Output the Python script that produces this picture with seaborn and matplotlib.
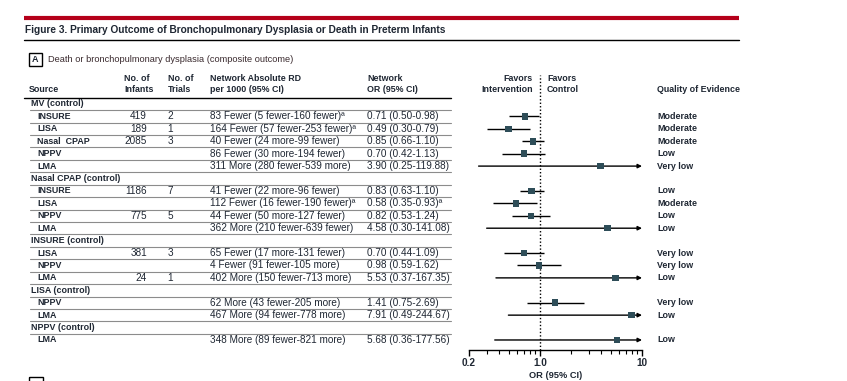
import matplotlib
matplotlib.use('Agg')
import matplotlib.pyplot as plt
import seaborn as sns
import numpy as np
from matplotlib.patches import Rectangle
from matplotlib.ticker import FixedLocator, NullFormatter

# Data
groups = ['MV (control)', 'Nasal CPAP (control)', 'INSURE (control)', 'LISA (control)', 'NPPV (control)']
group_of = [0, 0, 0, 0, 0, 1, 1, 1, 1, 2, 2, 2, 3, 3, 4]
labels = ['INSURE', 'LISA', 'Nasal  CPAP', 'NPPV', 'LMA',
          'INSURE', 'LISA', 'NPPV', 'LMA',
          'LISA', 'NPPV', 'LMA',
          'NPPV', 'LMA',
          'LMA']
infants = ['419', '189', '2085', '', '', '1186', '', '775', '', '381', '', '24', '', '', '']
trials = ['2', '1', '3', '', '', '7', '', '5', '', '3', '', '1', '', '', '']
rd_text = ['83 Fewer (5 fewer-160 fewer)\u00aa',
           '164 Fewer (57 fewer-253 fewer)\u00aa',
           '40 Fewer (24 more-99 fewer)',
           '86 Fewer (30 more-194 fewer)',
           '311 More (280 fewer-539 more)',
           '41 Fewer (22 more-96 fewer)',
           '112 Fewer (16 fewer-190 fewer)\u00aa',
           '44 Fewer (50 more-127 fewer)',
           '362 More (210 fewer-639 fewer)',
           '65 Fewer (17 more-131 fewer)',
           '4 Fewer (91 fewer-105 more)',
           '402 More (150 fewer-713 more)',
           '62 More (43 fewer-205 more)',
           '467 More (94 fewer-778 more)',
           '348 More (89 fewer-821 more)']
or_est = [0.71, 0.49, 0.85, 0.70, 3.90, 0.83, 0.58, 0.82, 4.58, 0.70, 0.98, 5.53, 1.41, 7.91, 5.68]
or_lo = [0.50, 0.30, 0.66, 0.42, 0.25, 0.63, 0.35, 0.53, 0.30, 0.44, 0.59, 0.37, 0.75, 0.49, 0.36]
or_hi = [0.98, 0.79, 1.10, 1.13, 119.88, 1.10, 0.93, 1.24, 141.08, 1.09, 1.62, 167.35, 2.69, 244.67, 177.56]
or_note = ['', '', '', '', '', '', '\u00aa', '', '', '', '', '', '', '', '']
quality = ['Moderate', 'Moderate', 'Moderate', 'Low', 'Very low',
           'Low', 'Moderate', 'Low', 'Low',
           'Very low', 'Very low', 'Low',
           'Very low', 'Low',
           'Low']

sns.set_theme(style='white')
plt.rcParams['font.family'] = ['Liberation Sans Narrow', 'Liberation Sans', 'DejaVu Sans']

W, H = 847, 381
fig = plt.figure(figsize=(W / 100, H / 100), dpi=100)

# background axes in pixel coordinates for the table
bg = fig.add_axes([0, 0, 1, 1])
bg.set_xlim(0, W)
bg.set_ylim(H, 0)
bg.axis('off')

txt = '#1f2733'
fs = 7.2     # regular text
fb = 6.4     # bold text
row0, dy = 104, 12.42

# row layout: group header then its comparisons
row_idx = []
header_rows = []
r = 0
for g in range(len(groups)):
    header_rows.append(r)
    r += 1
    for i in range(len(labels)):
        if group_of[i] == g:
            row_idx.append(r)
            r += 1
n_rows = r

def ypx(i):
    return row0 + dy * i

# title block
bg.plot([24, 739], [18.3, 18.3], color='#b5001a', lw=3, solid_capstyle='butt')
bg.text(25, 30, 'Figure 3. Primary Outcome of Bronchopulmonary Dysplasia or Death in Preterm Infants',
        fontsize=7.3, fontweight='bold', color=txt, va='center', ha='left')
bg.plot([24, 739], [40.3, 40.3], color='black', lw=1)

bg.add_patch(Rectangle((28.5, 53), 13, 13, fill=False, ec='black', lw=1))
bg.text(35, 59.8, 'A', fontsize=6.5, fontweight='bold', ha='center', va='center', color=txt)
bg.text(48, 60, 'Death or bronchopulmonary dysplasia (composite outcome)', fontsize=6.7,
        ha='left', va='center', color='#3a2a2e')

# column headers
hd = dict(fontsize=fb, fontweight='bold', color=txt, va='center')
bg.text(29, 90, 'Source', ha='left', **hd)
bg.text(124, 78.5, 'No. of', ha='left', **hd)
bg.text(124, 90, 'Infants', ha='left', **hd)
bg.text(168, 78.5, 'No. of', ha='left', **hd)
bg.text(168, 90, 'Trials', ha='left', **hd)
bg.text(210, 78.5, 'Network Absolute RD', ha='left', **hd)
bg.text(210, 90, 'per 1000 (95% CI)', ha='left', **hd)
bg.text(367, 78.5, 'Network', ha='left', **hd)
bg.text(367, 90, 'OR (95% CI)', ha='left', **hd)
bg.text(533, 78.5, 'Favors', ha='right', **hd)
bg.text(533, 90, 'Intervention', ha='right', **hd)
bg.text(547, 78.5, 'Favors', ha='left', **hd)
bg.text(547, 90, 'Control', ha='left', **hd)
bg.text(657, 90, 'Quality of Evidence', ha='left', **hd)
bg.plot([24, 451], [97.5, 97.5], color='black', lw=1)

# separators
for i in range(n_rows - 1):
    bg.plot([30, 451], [ypx(i + 0.5)] * 2, color='#8c8c8c', lw=0.8)

for g, hr in enumerate(header_rows):
    bg.text(31, ypx(hr), groups[g], ha='left', **hd)

for k, i in enumerate(row_idx):
    y = ypx(i)
    bg.text(37, y, labels[k], ha='left', **hd)
    bg.text(147, y, infants[k], ha='right', va='center', fontsize=fs, color=txt)
    bg.text(170, y, trials[k], ha='center', va='center', fontsize=fs, color=txt)
    bg.text(210, y, rd_text[k], ha='left', va='center', fontsize=fs, color=txt)
    bg.text(367, y, f'{or_est[k]:.2f} ({or_lo[k]:.2f}-{or_hi[k]:.2f}){or_note[k]}',
            ha='left', va='center', fontsize=fs, color=txt)
    bg.text(657, y, quality[k], ha='left', **hd)

# next panel box (cut off)
bg.add_patch(Rectangle((28.5, 377), 14, 14, fill=False, ec='black', lw=1))

# forest plot axes
x0, x1 = 468.7, 642.0
ytop, ybot = 75.0, 349.5
ax = fig.add_axes([x0 / W, 1 - ybot / H, (x1 - x0) / W, (ybot - ytop) / H])
ax.set_xscale('log')
ax.set_xlim(0.2, 10)
ax.set_ylim((ybot - row0) / dy, (ytop - row0) / dy)
ax.patch.set_alpha(0)
for s in ['top', 'right', 'left']:
    ax.spines[s].set_visible(False)
ax.spines['bottom'].set_color('black')
ax.spines['bottom'].set_linewidth(1)
ax.set_yticks([])
ax.axvline(1, color='black', ls=(0, (1, 1.5)), lw=1, zorder=1)

for k, i in enumerate(row_idx):
    lo, hi = or_lo[k], or_hi[k]
    if hi > 10:
        ax.annotate('', xy=(10, i), xytext=(lo, i), annotation_clip=False,
                    arrowprops=dict(arrowstyle='-|>', color='black', lw=1,
                                    mutation_scale=6, shrinkA=0, shrinkB=0))
    else:
        ax.hlines(i, lo, hi, color='black', lw=1, zorder=2)

sns.scatterplot(x=or_est, y=row_idx, marker='s', s=22, color='#2e4d58',
                edgecolor='none', ax=ax, zorder=4, legend=False)

ax.xaxis.set_major_locator(FixedLocator([0.2, 1, 10]))
ax.set_xticklabels(['0.2', '1.0', '10'])
ax.xaxis.set_minor_locator(FixedLocator([0.3, 0.4, 0.5, 0.6, 0.7, 0.8, 0.9, 2, 3, 4, 5, 6, 7, 8, 9]))
ax.xaxis.set_minor_formatter(NullFormatter())
ax.tick_params(axis='x', which='major', direction='out', length=4, width=1, colors='black',
               labelsize=fs, labelcolor=txt, pad=2, bottom=True)
ax.tick_params(axis='x', which='minor', direction='out', length=3, width=0.8, colors='black', bottom=True)
for t in ax.get_xticklabels():
    t.set_fontweight('bold')
ax.set_xlabel('OR (95% CI)', fontsize=fb + 0.3, fontweight='bold', color=txt, labelpad=2)
ax.set_ylabel('')

fig.savefig('out.png', dpi=100)
